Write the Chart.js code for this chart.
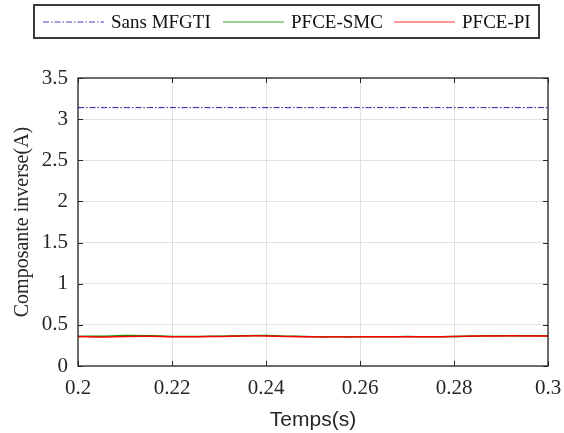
<!DOCTYPE html>
<html>
<head>
<meta charset="utf-8">
<script src="https://cdn.jsdelivr.net/npm/chart.js@4.4.1/dist/chart.umd.min.js"></script>
<style>
  html, body { margin: 0; padding: 0; background: #fff; }
  #wrap { position: relative; width: 564px; height: 433px; }
  #legend {
    position: absolute; left: 33px; top: 4px; width: 503px; height: 31px;
    border: 2px solid #3a3a3a; box-sizing: content-box;
    font-family: "Liberation Serif", "Times New Roman", serif; font-size: 19px; color: #111;
  }
  .item { position: absolute; top: 0; height: 31px; display: flex; align-items: center; }
  .item svg { margin-right: 7px; }
</style>
</head>
<body>
<div id="wrap">
  <canvas id="dataChart" width="564" height="433"></canvas>
  <div id="legend"></div>
</div>
<script>
// time axis (s)
const temps = [0.2, 0.205, 0.21, 0.215, 0.22, 0.225, 0.23, 0.235, 0.24, 0.245, 0.25,
               0.255, 0.26, 0.265, 0.27, 0.275, 0.28, 0.285, 0.29, 0.295, 0.3];
// series (A)
const sansMfgti = [3.14, 3.14, 3.14, 3.14, 3.14, 3.14, 3.14, 3.14, 3.14, 3.14, 3.14,
                   3.14, 3.14, 3.14, 3.14, 3.14, 3.14, 3.14, 3.14, 3.14, 3.14];
const pfceSmc = [0.36, 0.362, 0.37, 0.368, 0.36, 0.358, 0.362, 0.368, 0.37, 0.362, 0.356,
                 0.356, 0.355, 0.356, 0.357, 0.356, 0.358, 0.366, 0.368, 0.368, 0.365];
const pfcePi = [0.358, 0.352, 0.36, 0.362, 0.356, 0.356, 0.36, 0.366, 0.366, 0.358, 0.354,
                0.354, 0.354, 0.356, 0.354, 0.356, 0.358, 0.364, 0.366, 0.366, 0.364];
const xTicks = [0.2, 0.22, 0.24, 0.26, 0.28, 0.3];
const yTicks = [0, 0.5, 1, 1.5, 2, 2.5, 3, 3.5];

const serif = '"Liberation Serif", "Times New Roman", serif';
const sans = '"Liberation Sans", Arial, sans-serif';

//order: lower value is drawn on top
const series = [
  {label: 'Sans MFGTI', data: sansMfgti, color: 'rgb(25,25,170)', dash: [6, 2, 1.5, 2], width: 1, order: 2},
  {label: 'PFCE-SMC', data: pfceSmc, color: 'rgb(0,150,0)', dash: [], width: 1.5, order: 1},
  {label: 'PFCE-PI', data: pfcePi, color: 'rgb(255,0,0)', dash: [], width: 1.5, order: 0}
];

//Box around the axes plus inward tick marks, MATLAB style
const boxPlugin = {
  id: 'box',
  afterDraw(chart) {
    const {ctx, chartArea: a, scales} = chart;
    ctx.save();
    ctx.strokeStyle = '#262626';
    ctx.lineWidth = 1.3;
    ctx.strokeRect(a.left, a.top, a.right - a.left, a.bottom - a.top);
    ctx.lineWidth = 1;
    ctx.beginPath();
    xTicks.forEach(v => {
      const px = Math.round(scales.x.getPixelForValue(v)) + 0.5;
      ctx.moveTo(px, a.bottom); ctx.lineTo(px, a.bottom - 5);
      ctx.moveTo(px, a.top); ctx.lineTo(px, a.top + 5);
    });
    yTicks.forEach(v => {
      const py = Math.round(scales.y.getPixelForValue(v)) + 0.5;
      ctx.moveTo(a.left, py); ctx.lineTo(a.left + 5, py);
      ctx.moveTo(a.right, py); ctx.lineTo(a.right - 5, py);
    });
    ctx.stroke();
    ctx.restore();
  }
};

new Chart(document.getElementById('dataChart'), {
  type: 'line',
  data: {
    datasets: series.map(s => ({
      label: s.label,
      data: temps.map((t, i) => ({x: t, y: s.data[i]})),
      borderColor: s.color,
      borderWidth: s.width,
      borderDash: s.dash,
      order: s.order,
      pointRadius: 0,
      tension: 0.4,
      fill: false
    }))
  },
  options: {
    responsive: false,
    animation: false,
    layout: {padding: {top: 78, right: 16, left: 0, bottom: 0}},
    plugins: {legend: {display: false}, tooltip: {enabled: false}},
    scales: {
      x: {
        type: 'linear', min: 0.2, max: 0.3,
        afterBuildTicks: s => { s.ticks = xTicks.map(v => ({value: v})); },
        afterFit: s => { s.height = 67; s.paddingLeft = 0; s.paddingRight = 0; },
        grid: {color: '#e0e0e0', drawTicks: false},
        border: {display: false},
        ticks: {color: '#262626', font: {family: serif, size: 21}, padding: 10,
                maxRotation: 0, callback: v => String(+v.toFixed(2))},
        title: {display: true, text: 'Temps(s)', color: '#262626',
                font: {family: sans, size: 21}, padding: {top: 0, bottom: 0}}
      },
      y: {
        min: 0, max: 3.5,
        afterBuildTicks: s => { s.ticks = yTicks.map(v => ({value: v})); },
        afterFit: s => { s.width = 78; },
        grid: {color: '#e0e0e0', drawTicks: false},
        border: {display: false},
        ticks: {color: '#262626', font: {family: serif, size: 21}, padding: 10,
                callback: v => String(v)},
        title: {display: true, text: 'Composante inverse(A)', color: '#262626',
                font: {family: serif, size: 20}, padding: {top: 11, bottom: 0}}
      }
    }
  },
  plugins: [boxPlugin]
});

//HTML legend
const legendPos = [{line: 8}, {line: 188}, {line: 359}];
const legend = document.getElementById('legend');
series.forEach((s, i) => {
  const item = document.createElement('div');
  item.className = 'item';
  item.style.left = legendPos[i].line + 'px';
  const dash = s.dash.length ? `stroke-dasharray="${s.dash.join(' ')}"` : '';
  item.innerHTML = `<svg width="61" height="4"><line x1="0" y1="2" x2="61" y2="2" stroke="${s.color}" stroke-opacity="0.55" stroke-width="1.3" ${dash}/></svg><span>${s.label}</span>`;
  legend.appendChild(item);
});
</script>
</body>
</html>
